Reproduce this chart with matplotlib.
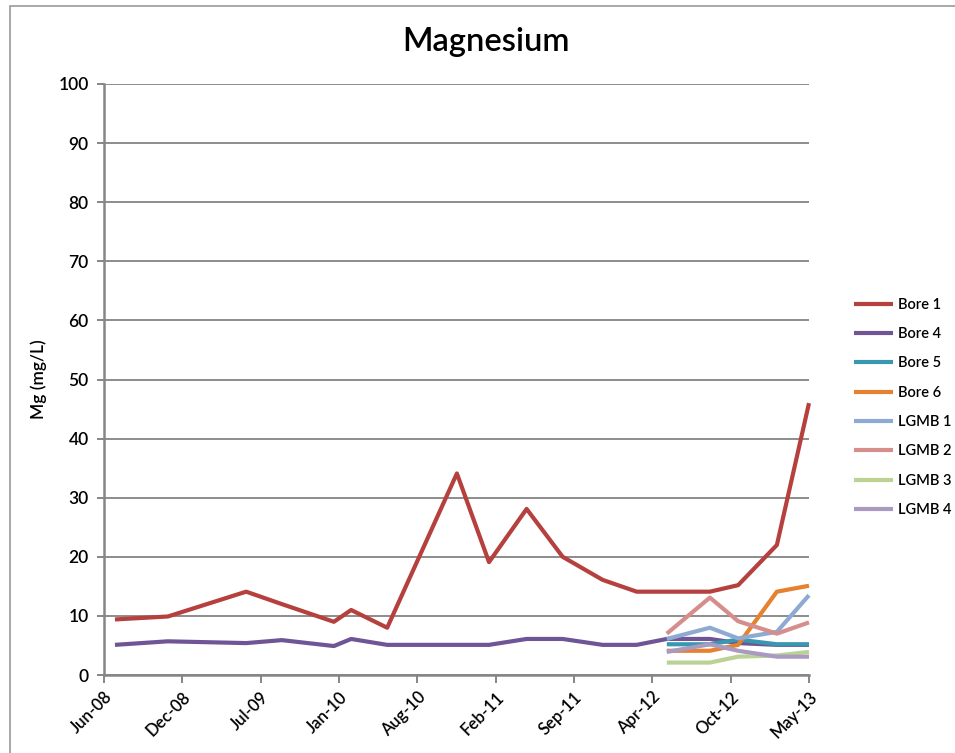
import matplotlib
matplotlib.use("Agg")
import matplotlib.pyplot as plt
import matplotlib.dates as mdates
from matplotlib.patches import Rectangle
import numpy as np

# sample dates and Mg values, mg/L
DATES_OLD = ["2008-06-29", "2008-11-11", "2009-05-30", "2009-08-29", "2010-01-09",
             "2010-02-22", "2010-05-25", "2010-11-19", "2011-02-09", "2011-05-16",
             "2011-08-16", "2011-11-26", "2012-02-21", "2012-05-08", "2012-08-26",
             "2012-11-06", "2013-02-13", "2013-05-06"]
DATES_NEW = ["2012-05-08", "2012-08-26", "2012-11-06", "2013-02-13", "2013-05-06"]

BORE1 = [9.4, 9.9, 14.1, 12.0, 9.0, 11.0, 8.0, 34.1, 19.1, 28.1, 20.0, 16.1, 14.1, 14.1, 14.1, 15.2, 22.0, 46.0]
BORE4 = [5.1, 5.7, 5.4, 5.9, 4.9, 6.1, 5.1, 5.1, 5.1, 6.1, 6.1, 5.1, 5.1, 6.1, 6.1, 5.4, 5.1, 5.1]
BORE5 = [5.2, 5.2, 6.0, 5.2, 5.2]
BORE6 = [4.1, 4.1, 5.1, 14.1, 15.1]
LGMB1 = [6.1, 8.0, 6.2, 7.3, 13.5]
LGMB2 = [7.0, 13.1, 9.1, 7.0, 8.9]
LGMB3 = [2.1, 2.1, 3.1, 3.3, 3.9]
LGMB4 = [3.9, 5.2, 4.1, 3.1, 3.1]

SERIES = [("Bore 1", DATES_OLD, BORE1, "#B5403D"),
          ("Bore 4", DATES_OLD, BORE4, "#6F5595"),
          ("Bore 5", DATES_NEW, BORE5, "#3A97B0"),
          ("Bore 6", DATES_NEW, BORE6, "#E5812F"),
          ("LGMB 1", DATES_NEW, LGMB1, "#8EAAD3"),
          ("LGMB 2", DATES_NEW, LGMB2, "#D58E8C"),
          ("LGMB 3", DATES_NEW, LGMB3, "#BBD295"),
          ("LGMB 4", DATES_NEW, LGMB4, "#AA9AC2")]

GRID = "#8C8C8C"
W = "semibold"
plt.rcParams.update({"font.family": ["Lato", "DejaVu Sans"], "font.weight": W})

fig = plt.figure(figsize=(9.55, 7.53), dpi=100)
ax = fig.add_axes([104/955, 1-675/753, (809-104)/955, (675-84)/753])

# outer chart-area border
fig.patches.append(Rectangle((9.5/955, -0.1), 1.2, 1.1-6/753, transform=fig.transFigure,
                             fill=False, edgecolor="#9A9A9A", lw=1.2))

for name, d, v, c in SERIES:
    x = mdates.datestr2num(d)
    ax.plot(x, v, color=c, lw=3.0, label=name, solid_joinstyle="round",
            solid_capstyle="butt", clip_on=False, zorder=3)

start = mdates.datestr2num("2008-06-01")
ticks = start + 200*np.arange(10)
ax.set_xlim(start, start + 1800)
ax.set_xticks(ticks)
ax.xaxis.set_major_formatter(mdates.DateFormatter("%b-%y"))
for lab in ax.get_xticklabels():
    lab.set_rotation(45); lab.set_ha("right"); lab.set_rotation_mode("anchor")
ax.set_ylim(0, 100)
ax.set_yticks(np.arange(0, 101, 10))

ax.grid(axis="y", color=GRID, lw=1.4)
ax.set_axisbelow(True)
for s in ["top", "right"]:
    ax.spines[s].set_visible(False)
for s in ["left", "bottom"]:
    ax.spines[s].set_color("#868686"); ax.spines[s].set_linewidth(1.8)
ax.tick_params(axis="y", length=5, width=1.4, color="#868686", labelsize=12.5, pad=6)
ax.tick_params(axis="x", length=6, width=1.4, color="#868686", labelsize=12, pad=4)

ax.set_ylabel("Mg (mg/L)", fontsize=12.5, labelpad=8, fontweight=W)
fig.text(486/955, 1-42/753, "Magnesium", fontsize=23.5, ha="center", va="center", fontweight=W)

ax.legend(loc="upper left", bbox_to_anchor=(848/955, 1-292/753), bbox_transform=fig.transFigure,
          frameon=False, prop={"size": 10.5, "weight": W}, handlelength=2.7, handletextpad=0.3,
          labelspacing=1.05, borderaxespad=0)

fig.savefig("out.png", dpi=100, facecolor="white")
